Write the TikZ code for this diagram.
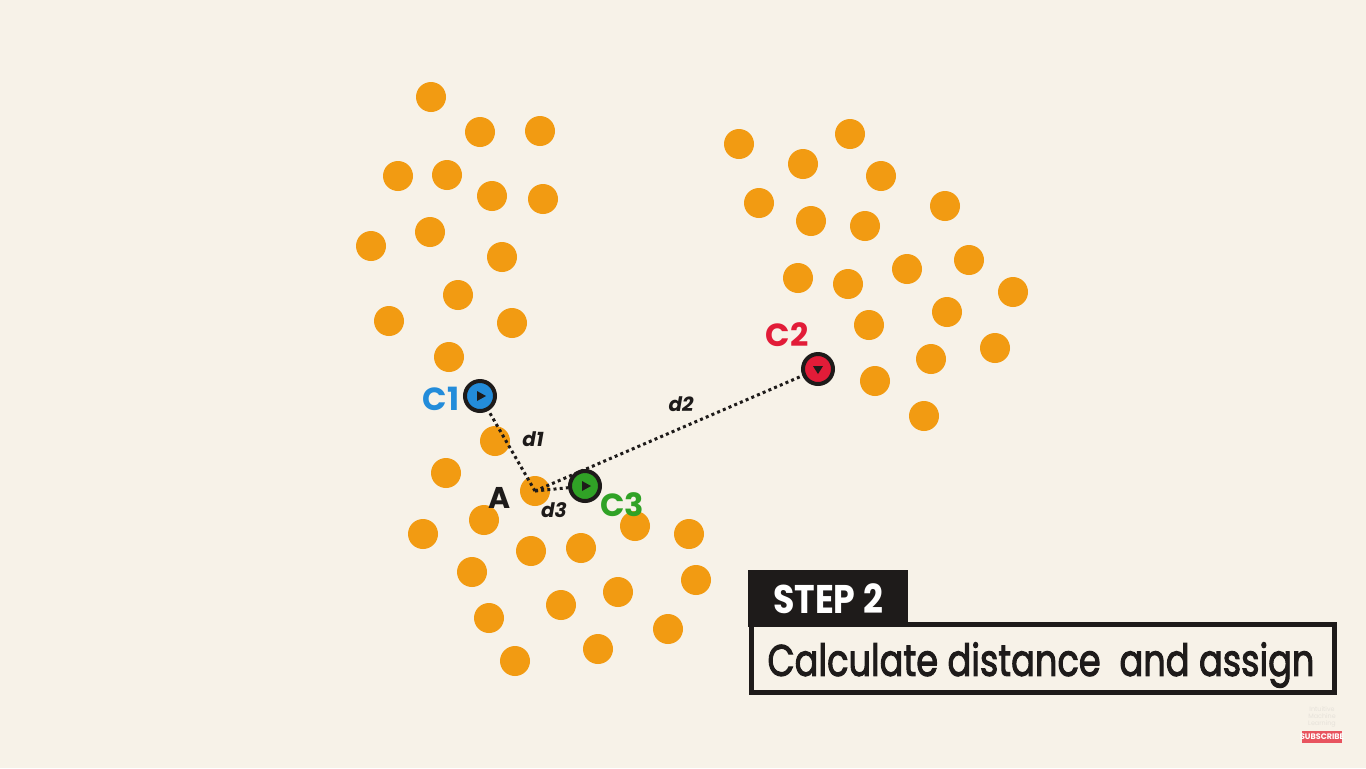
\documentclass[tikz,border=0pt]{standalone}
\usepackage{fontspec}
\setmainfont{Poppins}
\newfontfamily\kmmid{Poppins}[FakeBold=2.6]
\usetikzlibrary{positioning, calc}
\definecolor{kmbg}{RGB}{247, 242, 232}
\definecolor{kmorange}{RGB}{242, 155, 18}
\definecolor{kmblue}{RGB}{35, 140, 218}
\definecolor{kmred}{RGB}{226, 28, 56}
\definecolor{kmgreen}{RGB}{48, 162, 38}
\definecolor{kmink}{RGB}{30, 27, 26}
\definecolor{kmfaint}{RGB}{230, 226, 218}
\definecolor{kmsub}{RGB}{232, 84, 95}

\begin{document}
\begin{tikzpicture}[x=0.5pt, y=-0.5pt,
  point/.style={circle, fill=kmorange, minimum size=15pt, inner sep=0pt},
  centroid/.style={circle, fill=#1, draw=kmink, line width=2pt,
    minimum size=15pt, inner sep=0pt},
  clabel/.style={font=\bfseries\fontsize{16}{16}\selectfont, text=#1},
  dist/.style={draw=kmink, line width=1.5pt, dash pattern=on 1.5pt off 1.6pt},
  dlabel/.style={font=\bfseries\itshape\fontsize{10}{10}\selectfont, text=kmink}]

  % --- background ---
  \fill[kmbg] (0,0) rectangle (1366,768);
  \useasboundingbox (0,0) rectangle (1366,768);

  % --- data points ---
  \foreach \px/\py [count=\i] in {
    431/97, 480/132, 540/131, 398/176, 447/175, 492/196, 543/199,
    371/246, 430/232, 502/257, 458/295, 389/321, 512/323, 449/357,
    495/441, 446/473,
    423/534, 484/520, 531/551, 581/548, 635/526, 689/534, 472/572,
    696/580, 618/592, 561/605, 489/618, 668/629, 598/649, 515/661,
    739/144, 803/164, 850/134, 881/176, 759/203, 811/221, 865/226,
    945/206, 798/278, 848/284, 907/269, 969/260, 1013/292, 869/325,
    947/312, 995/348, 931/359, 875/381, 924/416}
    \node[point] (p\i) at (\px,\py) {};

  % --- the point being assigned ---
  \node[point] (A) at (535,491) {};
  \node[font=\bfseries\fontsize{15}{15}\selectfont, text=kmink] at (500,498) {A};

  % --- centroids ---
  \node[centroid=kmblue]  (C1) at (480,396) {};
  \node[centroid=kmred]   (C2) at (818,369) {};
  \node[centroid=kmgreen] (C3) at (585,486) {};
  \fill[kmink] ($(C1)+(-3,-5)$) -- ++(9,5) -- ++(-9,5) -- cycle;
  \fill[kmink] ($(C3)+(-3,-5)$) -- ++(9,5) -- ++(-9,5) -- cycle;
  \fill[kmink] ($(C2)+(-5,-3)$) -- ++(10,0) -- ++(-5,8) -- cycle;
  \node[clabel=kmblue]  at (441,399) {C1};
  \node[clabel=kmred]   at (787,335) {C2};
  \node[clabel=kmgreen] at (622,505) {C3};

  % --- distances ---
  \draw[dist] (A.center) -- (C1);
  \draw[dist] (A.center) -- (C2);
  \draw[dist] (A.center) -- (C3);
  \node[dlabel] at (533,439) {d1};
  \node[dlabel] at (681,404) {d2};
  \node[dlabel] at (554,510) {d3};

  % --- step box ---
  \fill[kmink] (748,570) rectangle (908,627);
  \draw[kmink, line width=2.5pt] (751.5,624.5) rectangle (1334.5,692.5);
  \node[font=\bfseries\fontsize{20}{20}\selectfont, text=white] (step) at (828,599)
    {\scalebox{0.87}[1]{STEP 2}};
  \node[font=\kmmid\fontsize{22}{22}\selectfont, text=kmink] (task) at (1041,665)
    {\scalebox{0.8}[1]{Calculate distance\ \ and assign}};

  % --- channel mark ---
  \node[font=\fontsize{3.2}{3.6}\selectfont, text=kmfaint, align=center] at (1322,717)
    {Intuitive\\Machine\\Learning};
  \fill[kmsub] (1302,731) rectangle (1342,743);
  \node[font=\bfseries\fontsize{4}{4}\selectfont, text=white] at (1322,737) {SUBSCRIBE};

\end{tikzpicture}
\end{document}
